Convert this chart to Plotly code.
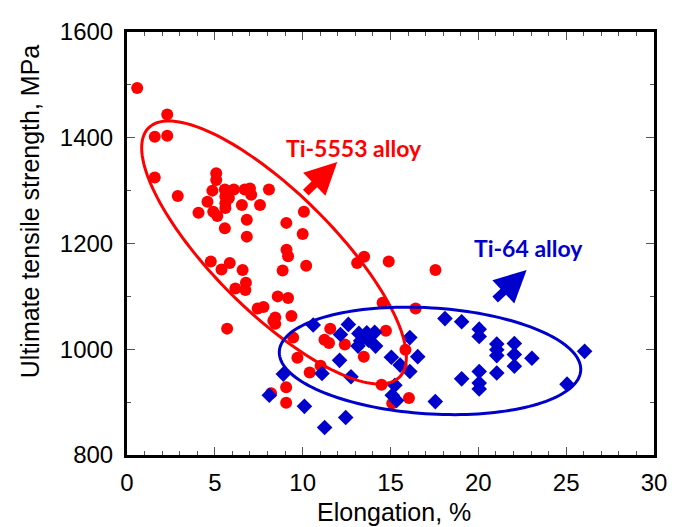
import numpy as np
import plotly.graph_objects as go

# Ti-5553 alloy: elongation (%) and ultimate tensile strength (MPa)
ti5553_elong = [
    0.58, 2.29, 1.58, 2.29, 1.58, 2.89,
    5.08, 5.08, 4.86, 4.58, 4.07, 4.91, 5.14,
    5.57, 6.08, 6.70, 7.00, 7.07, 5.60, 5.60, 5.60, 5.80, 6.54, 7.57, 8.08,
    5.57, 6.82, 6.82, 9.07, 10.07, 10.00,
    9.08, 9.17, 10.20, 8.86,
    4.77, 5.38, 5.85, 6.58, 6.77, 6.74, 6.17,
    8.58, 9.17, 7.44, 7.77, 8.44, 8.33, 8.44, 9.36,
    5.70, 9.46, 11.57, 11.24, 11.50,
    13.50, 13.10, 14.90, 17.56, 14.55, 16.43,
    12.40, 14.74, 15.85, 13.48, 9.70, 10.40, 11.02, 14.49, 9.06, 9.06, 8.20, 16.05, 15.10,
]
ti5553_uts = [
    1494, 1444, 1402, 1404, 1325, 1290,
    1333, 1320, 1300, 1279, 1258, 1260, 1252,
    1302, 1302, 1302, 1304, 1292, 1289, 1276, 1267, 1286, 1273, 1273, 1302,
    1229, 1245, 1213, 1239, 1260, 1218,
    1188, 1176, 1158, 1149,
    1166, 1151, 1163, 1150, 1126, 1112, 1115,
    1100, 1097, 1077, 1080, 1060, 1054, 1048, 1063,
    1039, 1022, 1039, 1018, 1012,
    1175, 1163, 1166, 1150, 1088, 1077,
    1009, 1035, 999, 986, 984, 956, 969, 933, 928, 899, 917, 908, 898,
]

# Ti-64 alloy
ti64_elong = [
    8.10, 8.90, 10.10, 10.60, 11.10, 11.25, 12.10, 12.15, 12.60, 12.45, 12.75,
    13.20, 13.65, 14.10, 13.30, 13.75, 13.15, 14.15,
    15.05, 15.55, 15.25, 15.10, 15.35, 16.10, 16.55, 16.10, 17.55,
    18.10, 19.05, 19.05, 20.05, 20.05, 20.05, 20.05, 20.05,
    21.05, 21.05, 21.05, 21.05, 22.05, 22.05, 22.05, 23.05, 25.05, 26.05,
]
ti64_uts = [
    913, 953, 892, 1046, 954, 852, 979, 1028, 1047, 871, 948,
    1030, 1031, 1032, 1016, 1017, 1006, 1006,
    985, 970, 932, 913, 903, 1022, 986, 958, 901,
    1058, 1052, 944, 1038, 1024, 958, 936, 925,
    1010, 999, 988, 955, 1011, 990, 968, 983, 934, 996,
]

X_RANGE = [0, 30]
Y_RANGE = [800, 1600]
X_TICKS = [0, 5, 10, 15, 20, 25, 30]
Y_TICKS = [800, 1000, 1200, 1400, 1600]

RED = "#FF0000"
BLUE = "#0000CC"

W, H = 679, 527
M_L, M_R, M_T, M_B = 127, 18, 32, 72
PX_PER_X = (W - M_L - M_R) / (X_RANGE[1] - X_RANGE[0])
PX_PER_Y = (H - M_T - M_B) / (Y_RANGE[1] - Y_RANGE[0])


def ellipse_path(cx, cy, a_px, b_px, angle_deg, n=160):
    """Rotated ellipse centred at data point (cx, cy); axes given in screen pixels."""
    t = np.linspace(0, 2 * np.pi, n)
    th = np.deg2rad(angle_deg)
    dx = a_px * np.cos(t) * np.cos(th) - b_px * np.sin(t) * np.sin(th)
    dy = a_px * np.cos(t) * np.sin(th) + b_px * np.sin(t) * np.cos(th)
    xs = cx + dx / PX_PER_X
    ys = cy - dy / PX_PER_Y
    pts = [f"{x:.4f},{y:.4f}" for x, y in zip(xs, ys)]
    return "M " + " L ".join(pts) + " Z"


fig = go.Figure()

fig.add_trace(go.Scatter(
    x=ti5553_elong, y=ti5553_uts, mode="markers", name="Ti-5553",
    marker=dict(symbol="circle", size=12, color=RED, line=dict(width=0)),
))
fig.add_trace(go.Scatter(
    x=ti64_elong, y=ti64_uts, mode="markers", name="Ti-64",
    marker=dict(symbol="diamond", size=12, color=BLUE, line=dict(width=0)),
))

fig.add_shape(type="path", path=ellipse_path(8.37, 1183, 178, 60, 44.3),
              line=dict(color=RED, width=3), layer="above")
fig.add_shape(type="path", path=ellipse_path(17.25, 978, 153, 53, 3.6),
              line=dict(color=BLUE, width=3), layer="above")

label_font = "Lato"
fig.add_annotation(x=12.92, y=1381, text="<b>Ti-5553 alloy</b>", showarrow=False,
                   font=dict(family=label_font, size=23, color=RED))
fig.add_annotation(x=22.87, y=1192, text="<b>Ti-64 alloy</b>", showarrow=False,
                   font=dict(family=label_font, size=23, color=BLUE))

# thick pointer arrows next to the labels
fig.add_annotation(x=11.97, y=1354, ax=-33, ay=32, text="", showarrow=True,
                   arrowhead=2, arrowsize=0.8, arrowwidth=8, arrowcolor=RED)
fig.add_annotation(x=22.75, y=1150, ax=-33, ay=31, text="", showarrow=True,
                   arrowhead=2, arrowsize=0.8, arrowwidth=8, arrowcolor=BLUE)

# axis titles placed as paper annotations
title_font = dict(family="Liberation Sans", color="black")
fig.add_annotation(xref="paper", yref="paper", x=-0.1835, y=0.577,
                   xanchor="center", yanchor="middle",
                   text="Ultimate tensile strength, MPa", textangle=-90,
                   showarrow=False, font=dict(size=25, **title_font))
fig.add_annotation(xref="paper", yref="paper", x=0.507, y=-0.1348,
                   xanchor="center", yanchor="middle",
                   text="Elongation, %", showarrow=False,
                   font=dict(size=25, **title_font))

axis_common = dict(
    showline=True, linecolor="black", linewidth=3, mirror="allticks",
    ticks="inside", ticklen=8, tickwidth=1, tickcolor="#555555",
    showgrid=False, zeroline=False,
    tickfont=dict(family="Liberation Sans", size=24, color="black"),
)

fig.update_xaxes(
    range=X_RANGE, tickvals=X_TICKS, ticklabelstandoff=4,
    minor=dict(ticks="inside", dtick=1, ticklen=4, tickcolor="#555555", showgrid=False),
    **axis_common,
)
fig.update_yaxes(
    range=Y_RANGE, tickvals=Y_TICKS, ticklabelstandoff=6,
    minor=dict(ticks="inside", dtick=100, ticklen=4, tickcolor="#555555", showgrid=False),
    **axis_common,
)

fig.update_layout(
    width=W, height=H,
    margin=dict(l=M_L, r=M_R, t=M_T, b=M_B),
    paper_bgcolor="white", plot_bgcolor="white",
    showlegend=False,
)

fig.write_html("out.html")
